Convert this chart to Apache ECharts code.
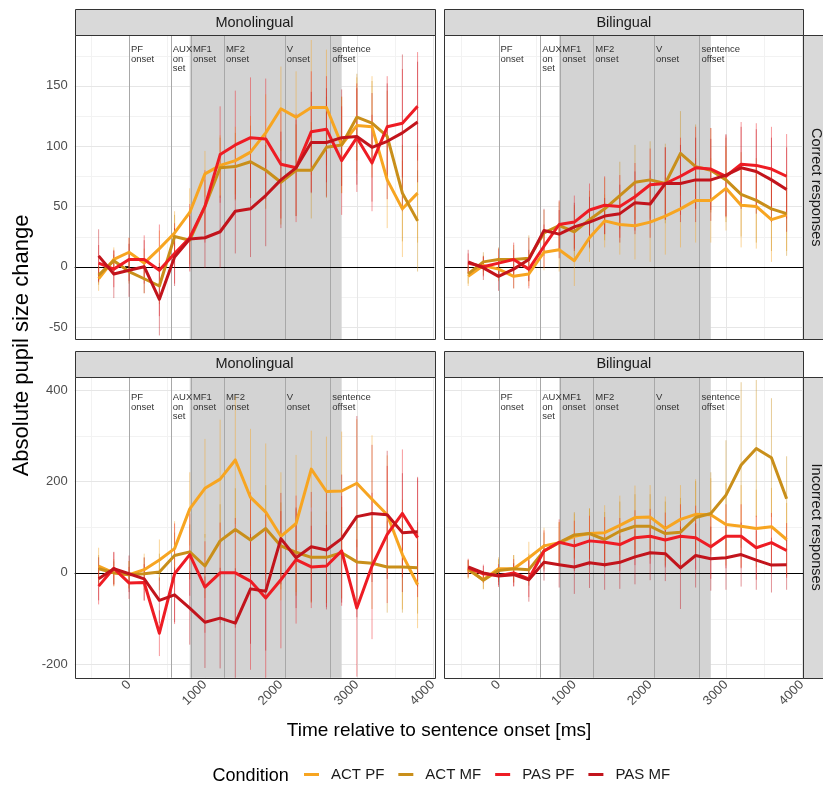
<!DOCTYPE html>
<html>
<head>
<meta charset="utf-8">
<script src="https://cdn.jsdelivr.net/npm/echarts@6/dist/echarts.min.js"></script>
<style>
  html, body { margin: 0; padding: 0; background: #ffffff; }
  #chart { width: 823px; height: 785px; }
</style>
</head>
<body>
<div id="chart"></div>
<script>
// ---- time base (ms relative to sentence onset) ----
const times = [-400, -200, 0, 200, 400, 600, 800, 1000, 1200, 1400, 1600, 1800,
               2000, 2200, 2400, 2600, 2800, 3000, 3200, 3400, 3600, 3800];

const conditions = ['ACT PF', 'ACT MF', 'PAS PF', 'PAS MF'];
const conditionColors = ['#F7A521', '#C98F1A', '#EE1C24', '#C2141C'];

const languageGroups = ['Monolingual', 'Bilingual'];
const responseTypes = ['Correct responses', 'Incorrect responses'];

// ---- Monolingual, correct responses: mean pupil change and error ----
const monoCorActPF = [-10, 6, 12, 3, 15, 28, 45, 77, 84, 88, 95, 111, 131, 124, 132, 132, 101, 117, 116, 72, 48, 61];
const monoCorActMF = [-7, 5, -4, -10, -16, 25, 22, 50, 82, 83, 87, 80, 70, 80, 80, 99, 101, 124, 119, 108, 61, 38];
const monoCorPasPF = [3, -2, 6, 6, -3, 11, 24, 50, 93, 101, 107, 106, 85, 82, 112, 114, 88, 107, 86, 116, 119, 133];
const monoCorPasMF = [9, -6, -3, 0, -27, 8, 23, 24, 29, 46, 48, 59, 72, 82, 103, 103, 107, 108, 99, 104, 111, 120];
const monoCorActPFErr = [10, 10, 12, 12, 15, 18, 20, 19, 25, 28, 30, 32, 35, 38, 56, 48, 40, 40, 42, 40, 40, 41];
const monoCorActMFErr = [8, 5, 10, 12, 15, 18, 20, 22, 25, 28, 30, 32, 35, 38, 40, 42, 40, 36, 35, 38, 40, 42];
const monoCorPasPFErr = [15, 15, 18, 20, 38, 25, 28, 30, 40, 45, 50, 50, 45, 45, 50, 44, 45, 45, 40, 42, 45, 45];
const monoCorPasMFErr = [22, 20, 22, 22, 30, 24, 23, 25, 30, 35, 40, 42, 40, 40, 42, 45, 40, 40, 45, 48, 65, 50];

// ---- Bilingual, correct responses ----
const biCorActPF = [-8, 1, -2, -8, -6, 12, 14, 5, 24, 38, 35, 34, 37, 42, 48, 55, 55, 65, 51, 50, 39, 43];
const biCorActMF = [-6, 4, 6, 6, 7, 28, 34, 29, 39, 48, 59, 70, 72, 69, 94, 83, 80, 72, 60, 55, 48, 44];
const biCorPasPF = [3, 0, 3, 6, -2, 17, 35, 37, 47, 51, 50, 58, 68, 69, 75, 82, 81, 75, 85, 84, 81, 75];
const biCorPasMF = [4, -1, -8, -2, 6, 30, 27, 33, 37, 42, 44, 53, 52, 69, 69, 72, 72, 76, 82, 79, 72, 64];
const biCorActPFErr = [8, 8, 10, 10, 10, 15, 18, 21, 20, 22, 25, 28, 33, 32, 32, 35, 35, 35, 35, 35, 35, 30];
const biCorActMFErr = [8, 8, 10, 12, 19, 19, 20, 22, 24, 26, 28, 31, 32, 33, 35, 35, 35, 35, 35, 35, 35, 35];
const biCorPasPFErr = [8, 8, 12, 14, 16, 18, 20, 22, 22, 24, 26, 28, 30, 30, 32, 34, 34, 34, 35, 35, 35, 35];
const biCorPasMFErr = [10, 10, 12, 16, 18, 18, 20, 20, 21, 15, 24, 26, 28, 30, 32, 35, 34, 34, 34, 35, 35, 35];

// ---- Monolingual, incorrect responses ----
const monoIncActPF = [15, 0, -4, 7, 28, 53, 140, 185, 205, 247, 165, 133, 80, 108, 227, 178, 179, 196, 161, 127, 40, -26];
const monoIncActMF = [9, 0, -4, -2, 2, 38, 46, 15, 70, 95, 72, 97, 59, 45, 34, 34, 44, 24, 21, 13, 13, 11];
const monoIncPasPF = [-29, 10, -22, -21, -132, -2, 40, -31, 0, 0, -18, -55, -15, 29, 13, 15, 48, -77, 15, 84, 130, 77];
const monoIncPasMF = [-13, 9, -2, -13, -60, -48, -77, -108, -99, -110, -35, -40, 75, 33, 57, 50, 75, 123, 130, 127, 88, 90];
const monoIncActPFErr = [40, 30, 30, 35, 45, 60, 80, 108, 130, 140, 150, 150, 140, 150, 84, 120, 130, 140, 140, 130, 120, 95];
const monoIncActMFErr = [30, 25, 30, 35, 40, 50, 60, 70, 80, 90, 90, 95, 95, 95, 100, 100, 100, 100, 100, 100, 100, 100];
const monoIncPasPFErr = [40, 35, 35, 40, 50, 110, 90, 100, 110, 120, 194, 188, 150, 140, 90, 90, 120, 150, 160, 150, 140, 130];
const monoIncPasMFErr = [47, 37, 40, 47, 50, 60, 80, 100, 110, 120, 120, 130, 100, 110, 120, 130, 140, 220, 150, 140, 130, 120];

// ---- Bilingual, incorrect responses ----
const biIncActPF = [7, -15, 9, 9, 33, 59, 66, 80, 86, 88, 104, 121, 122, 97, 117, 128, 127, 106, 102, 97, 101, 73];
const biIncActMF = [9, -16, 5, 9, 7, 48, 66, 83, 86, 73, 91, 102, 102, 86, 89, 121, 130, 170, 236, 272, 252, 162];
const biIncPasPF = [11, -2, -6, 0, -13, 48, 67, 59, 70, 67, 62, 77, 80, 72, 80, 77, 57, 80, 80, 55, 66, 49];
const biIncPasMF = [13, 0, -7, -4, -15, 23, 18, 13, 22, 18, 23, 35, 44, 42, 11, 38, 31, 33, 40, 28, 17, 18];
const biIncActPFErr = [20, 20, 25, 30, 35, 40, 45, 50, 55, 60, 65, 70, 70, 70, 75, 77, 80, 90, 90, 85, 85, 80];
const biIncActMFErr = [20, 20, 25, 30, 35, 40, 45, 50, 55, 60, 65, 70, 70, 70, 75, 80, 90, 120, 181, 150, 130, 93];
const biIncPasPFErr = [20, 20, 25, 30, 40, 45, 50, 55, 55, 55, 58, 60, 60, 60, 70, 70, 70, 70, 70, 70, 65, 60];
const biIncPasMFErr = [15, 15, 20, 25, 48, 40, 50, 59, 55, 55, 58, 60, 60, 60, 90, 70, 70, 70, 70, 65, 60, 55];

// ---- sentence events ----
const eventNames = ['PF\nonset', 'AUX\non\nset', 'MF1\nonset', 'MF2\nonset', 'V\nonset', 'sentence\noffset'];
const eventTimes = [0, 550, 815, 1250, 2050, 2650];
const criticalWindow = [800, 2800];

// ---- axis ticks ----
const xTicks = [0, 1000, 2000, 3000, 4000];
const xMinorTicks = [-500, 500, 1500, 2500, 3500];
const yTicksCorrect = [-50, 0, 50, 100, 150];
const yMinorCorrect = [-25, 25, 75, 125, 175];
const yTicksIncorrect = [-200, 0, 200, 400];
const yMinorIncorrect = [-100, 100, 300];

// ---- facet layout (pixels) ----
const FONT = '"Liberation Sans", Arial, sans-serif';
const colLeft = [74.7, 444.3];
const colWidth = [359.6, 359];
const rowTop = [35.3, 376.7];
const rowHeight = [304, 301];
const stripSize = 26;
const xRange = [-715, 4020];
const rowScales = [
  { min: -60.2, max: 191.9, ticks: yTicksCorrect, minor: yMinorCorrect, labelY: 184 },
  { min: -229.3, max: 429.1, ticks: yTicksIncorrect, minor: yMinorIncorrect, labelY: 394 }
];

const panels = [
  { row: 0, col: 0, means: [monoCorActPF, monoCorActMF, monoCorPasPF, monoCorPasMF],
    errs: [monoCorActPFErr, monoCorActMFErr, monoCorPasPFErr, monoCorPasMFErr] },
  { row: 0, col: 1, means: [biCorActPF, biCorActMF, biCorPasPF, biCorPasMF],
    errs: [biCorActPFErr, biCorActMFErr, biCorPasPFErr, biCorPasMFErr] },
  { row: 1, col: 0, means: [monoIncActPF, monoIncActMF, monoIncPasPF, monoIncPasMF],
    errs: [monoIncActPFErr, monoIncActMFErr, monoIncPasPFErr, monoIncPasMFErr] },
  { row: 1, col: 1, means: [biIncActPF, biIncActMF, biIncPasPF, biIncPasMF],
    errs: [biIncActPFErr, biIncActMFErr, biIncPasPFErr, biIncPasMFErr] }
];

const crisp = v => Math.round(v) + 0.5;

// vertical reference lines spanning the full panel height
function verticalLines(idx, values, style) {
  return {
    type: 'custom', xAxisIndex: idx, yAxisIndex: idx, silent: true,
    data: values.map(v => [v, 0]),
    renderItem: (params, api) => {
      const cs = params.coordSys;
      const x = crisp(api.coord([api.value(0), 0])[0]);
      return { type: 'line', shape: { x1: x, y1: cs.y, x2: x, y2: cs.y + cs.height }, style: style };
    }
  };
}

// horizontal reference lines spanning the full panel width
function horizontalLines(idx, values, style) {
  return {
    type: 'custom', xAxisIndex: idx, yAxisIndex: idx, silent: true,
    data: values.map(v => [0, v]),
    renderItem: (params, api) => {
      const cs = params.coordSys;
      const y = crisp(api.coord([0, api.value(1)])[1]);
      return { type: 'line', shape: { x1: cs.x, y1: y, x2: cs.x + cs.width, y2: y }, style: style };
    }
  };
}

const grids = [], xAxes = [], yAxes = [], series = [], graphics = [];

panels.forEach((p, idx) => {
  const rs = rowScales[p.row];
  grids.push({
    left: colLeft[p.col], top: rowTop[p.row],
    width: colWidth[p.col], height: rowHeight[p.row],
    show: true, backgroundColor: '#ffffff', borderWidth: 0
  });
  const showX = p.row === 1;
  const showY = p.col === 0;
  xAxes.push({
    gridIndex: idx, type: 'value', min: xRange[0], max: xRange[1],
    axisLine: { show: false },
    axisTick: { show: showX, customValues: xTicks, length: 4, lineStyle: { color: '#333333', width: 1 } },
    axisLabel: { show: showX, customValues: xTicks, rotate: 45, margin: 5,
                 formatter: v => String(v),
                 color: '#4d4d4d', fontSize: 13, fontFamily: FONT },
    splitLine: { show: false }
  });
  yAxes.push({
    gridIndex: idx, type: 'value', min: rs.min, max: rs.max,
    axisLine: { show: false },
    axisTick: { show: showY, customValues: rs.ticks, length: 4, lineStyle: { color: '#333333', width: 1 } },
    axisLabel: { show: showY, customValues: rs.ticks, margin: 7,
                 formatter: v => String(v),
                 color: '#4d4d4d', fontSize: 13, fontFamily: FONT },
    splitLine: { show: false }
  });

  // background grid (minor, then major)
  series.push(verticalLines(idx, xMinorTicks, { stroke: '#f2f2f2', lineWidth: 1 }));
  series.push(horizontalLines(idx, rs.minor, { stroke: '#f2f2f2', lineWidth: 1 }));
  series.push(verticalLines(idx, xTicks, { stroke: '#e6e6e6', lineWidth: 1 }));
  series.push(horizontalLines(idx, rs.ticks, { stroke: '#e6e6e6', lineWidth: 1 }));

  // shaded critical window
  series.push({
    type: 'custom', xAxisIndex: idx, yAxisIndex: idx, silent: true,
    data: [[criticalWindow[0], criticalWindow[1]]],
    renderItem: (params, api) => {
      const cs = params.coordSys;
      const x1 = api.coord([api.value(0), 0])[0];
      const x2 = api.coord([api.value(1), 0])[0];
      return { type: 'rect', shape: { x: x1, y: cs.y, width: x2 - x1, height: cs.height },
               style: { fill: '#d3d3d3' } };
    }
  });

  // event onsets and the zero line
  series.push(verticalLines(idx, eventTimes, { stroke: '#a8a8a8', lineWidth: 1 }));
  series.push(horizontalLines(idx, [0], { stroke: '#000000', lineWidth: 1 }));

  // event labels
  series.push({
    type: 'custom', xAxisIndex: idx, yAxisIndex: idx, silent: true,
    data: eventTimes.map((t, i) => [t, rs.labelY, i]),
    renderItem: (params, api) => {
      const pt = api.coord([api.value(0), api.value(1)]);
      return {
        type: 'text', x: pt[0] + 2, y: pt[1],
        style: { text: eventNames[api.value(2)], fill: '#333333', fontSize: 9.5,
                 fontFamily: FONT, align: 'left', verticalAlign: 'top', lineHeight: 9.5 }
      };
    }
  });

  // error bars
  conditions.forEach((c, ci) => {
    series.push({
      type: 'custom', xAxisIndex: idx, yAxisIndex: idx, silent: true, clip: true,
      data: times.map((t, k) => [t, p.means[ci][k], p.errs[ci][k]]),
      renderItem: (params, api) => {
        const m = api.value(1), e = api.value(2);
        const a = api.coord([api.value(0), m - e]);
        const b = api.coord([api.value(0), m + e]);
        return { type: 'line', shape: { x1: a[0], y1: a[1], x2: b[0], y2: b[1] },
                 style: { stroke: conditionColors[ci], lineWidth: 1, opacity: 0.45 } };
      }
    });
  });

  // condition means
  conditions.forEach((c, ci) => {
    series.push({
      type: 'line', name: c, xAxisIndex: idx, yAxisIndex: idx, silent: true,
      data: times.map((t, k) => [t, p.means[ci][k]]),
      showSymbol: false, symbol: 'none',
      color: conditionColors[ci],
      itemStyle: { color: conditionColors[ci] },
      lineStyle: { color: conditionColors[ci], width: 3, join: 'round' }
    });
  });

  // panel border
  graphics.push({
    type: 'rect', z: 100,
    shape: { x: crisp(colLeft[p.col]), y: crisp(rowTop[p.row]),
             width: Math.round(colWidth[p.col]), height: Math.round(rowHeight[p.row]) },
    style: { fill: 'none', stroke: '#333333', lineWidth: 1 }
  });
});

// column strips
languageGroups.forEach((g, ci) => {
  rowTop.forEach((top) => {
    graphics.push({
      type: 'rect', z: 100,
      shape: { x: crisp(colLeft[ci]), y: crisp(top - stripSize), width: Math.round(colWidth[ci]), height: stripSize },
      style: { fill: '#d9d9d9', stroke: '#333333', lineWidth: 1 }
    });
    graphics.push({
      type: 'text', z: 101, x: colLeft[ci] + colWidth[ci] / 2, y: top - stripSize / 2 + 0.5,
      style: { text: g, fill: '#1a1a1a', fontSize: 14.5, fontFamily: FONT, align: 'center', verticalAlign: 'middle' }
    });
  });
});

// row strips
const rowStripLeft = colLeft[1] + colWidth[1];
responseTypes.forEach((r, ri) => {
  graphics.push({
    type: 'rect', z: 100,
    shape: { x: crisp(rowStripLeft), y: crisp(rowTop[ri]), width: 30, height: Math.round(rowHeight[ri]) },
    style: { fill: '#d9d9d9', stroke: '#333333', lineWidth: 1 }
  });
  graphics.push({
    type: 'text', z: 101, x: rowStripLeft + 13, y: rowTop[ri] + rowHeight[ri] / 2,
    rotation: -Math.PI / 2,
    style: { text: r, fill: '#1a1a1a', fontSize: 14.5, fontFamily: FONT, align: 'center', verticalAlign: 'middle' }
  });
});

// axis titles
graphics.push({
  type: 'text', z: 101, x: (colLeft[0] + rowStripLeft) / 2, y: 731,
  style: { text: 'Time relative to sentence onset [ms]', fill: '#000000', fontSize: 19,
           fontFamily: FONT, align: 'center', verticalAlign: 'middle' }
});
graphics.push({
  type: 'text', z: 101, x: 22, y: (rowTop[0] - stripSize + rowTop[1] + rowHeight[1]) / 2 + 2,
  rotation: Math.PI / 2,
  style: { text: 'Absolute pupil size change', fill: '#000000', fontSize: 22,
           fontFamily: FONT, align: 'center', verticalAlign: 'middle' }
});
// legend title
graphics.push({
  type: 'text', z: 101, x: 212.6, y: 776,
  style: { text: 'Condition', fill: '#000000', fontSize: 18, fontFamily: FONT,
           align: 'left', verticalAlign: 'middle' }
});

const chart = echarts.init(document.getElementById('chart'), null, { renderer: 'canvas' });
chart.setOption({
  animation: false,
  backgroundColor: '#ffffff',
  grid: grids,
  xAxis: xAxes,
  yAxis: yAxes,
  legend: {
    data: conditions, left: 304, top: 767, padding: 0,
    icon: 'rect', itemWidth: 15, itemHeight: 3, itemGap: 14,
    selectedMode: false,
    textStyle: { fontSize: 15, color: '#1a1a1a', fontFamily: FONT, padding: [0, 0, 0, 7] }
  },
  series: series,
  graphic: graphics
});
</script>
</body>
</html>
